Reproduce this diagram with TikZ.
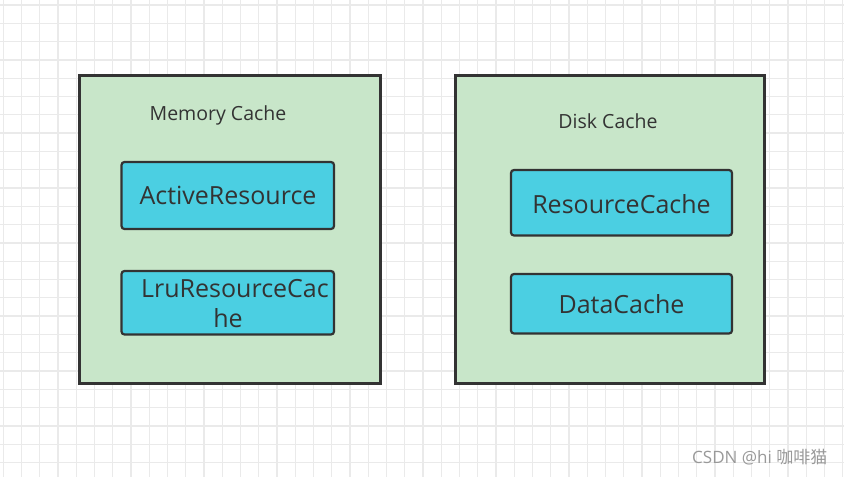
\documentclass[tikz,border=0pt]{standalone}
\usepackage{fontspec}
\setmainfont{Open Sans}
\newfontfamily\cjk{Noto Sans CJK SC}
\definecolor{gridc}{HTML}{EAEAEA}
\definecolor{greenfill}{HTML}{C8E6C9}
\definecolor{cyanfill}{HTML}{4BCFE2}
\definecolor{edgec}{HTML}{333333}
\definecolor{txtc}{HTML}{333333}
\definecolor{wmc}{HTML}{999999}
\tikzset{
  outerbox/.style={draw=edgec, line width=3pt, fill=greenfill},
  innerbox/.style={draw=edgec, line width=2.2pt, fill=cyanfill, rounded corners=3pt},
  titletext/.style={text=txtc, font=\fontsize{19.5}{23}\selectfont},
  innertext/.style={text=txtc, font=\fontsize{25}{30}\selectfont, align=center},
}
\begin{document}
\begin{tikzpicture}[x=1pt,y=-1pt]
\useasboundingbox (0,0) rectangle (844,477);
\fill[white] (0,0) rectangle (844,477);
% grid
\foreach \i in {0,...,46} {
  \draw[gridc, line width=1.3pt] ({3.3+18.25*\i},0) -- ({3.3+18.25*\i},477);
}
\foreach \j in {0,...,26} {
  \draw[gridc, line width=1.3pt] (0,{5+18.3*\j}) -- (844,{5+18.3*\j});
}
% outer boxes
\draw[outerbox] (79,75) rectangle (380,383);
\draw[outerbox] (455,75) rectangle (764,383);
% inner boxes
\draw[innerbox] (121.5,162) rectangle (334,229);
\draw[innerbox] (121.5,271) rectangle (334,334.5);
\draw[innerbox] (511,170) rectangle (732,235.5);
\draw[innerbox] (511,274) rectangle (732,333.5);
% texts
\node[titletext] (memt) at (218,115) {Memory Cache};
\node[titletext] (diskt) at (608,121) {Disk Cache};
\node[innertext] (act) at (228,195) {ActiveResource};
\node[innertext] (lru) at (235,304) {LruResourceCac\\\hspace*{-14pt}he};
\node[innertext] (res) at (621.5,204) {ResourceCache};
\node[innertext] (data) at (621.5,304) {DataCache};
% watermark
\node[text=wmc, font=\fontsize{17}{19}\selectfont, anchor=west, inner sep=0pt] (wm) at (692,457) {CSDN @hi {\cjk 咖啡猫}};
\end{tikzpicture}
\end{document}
